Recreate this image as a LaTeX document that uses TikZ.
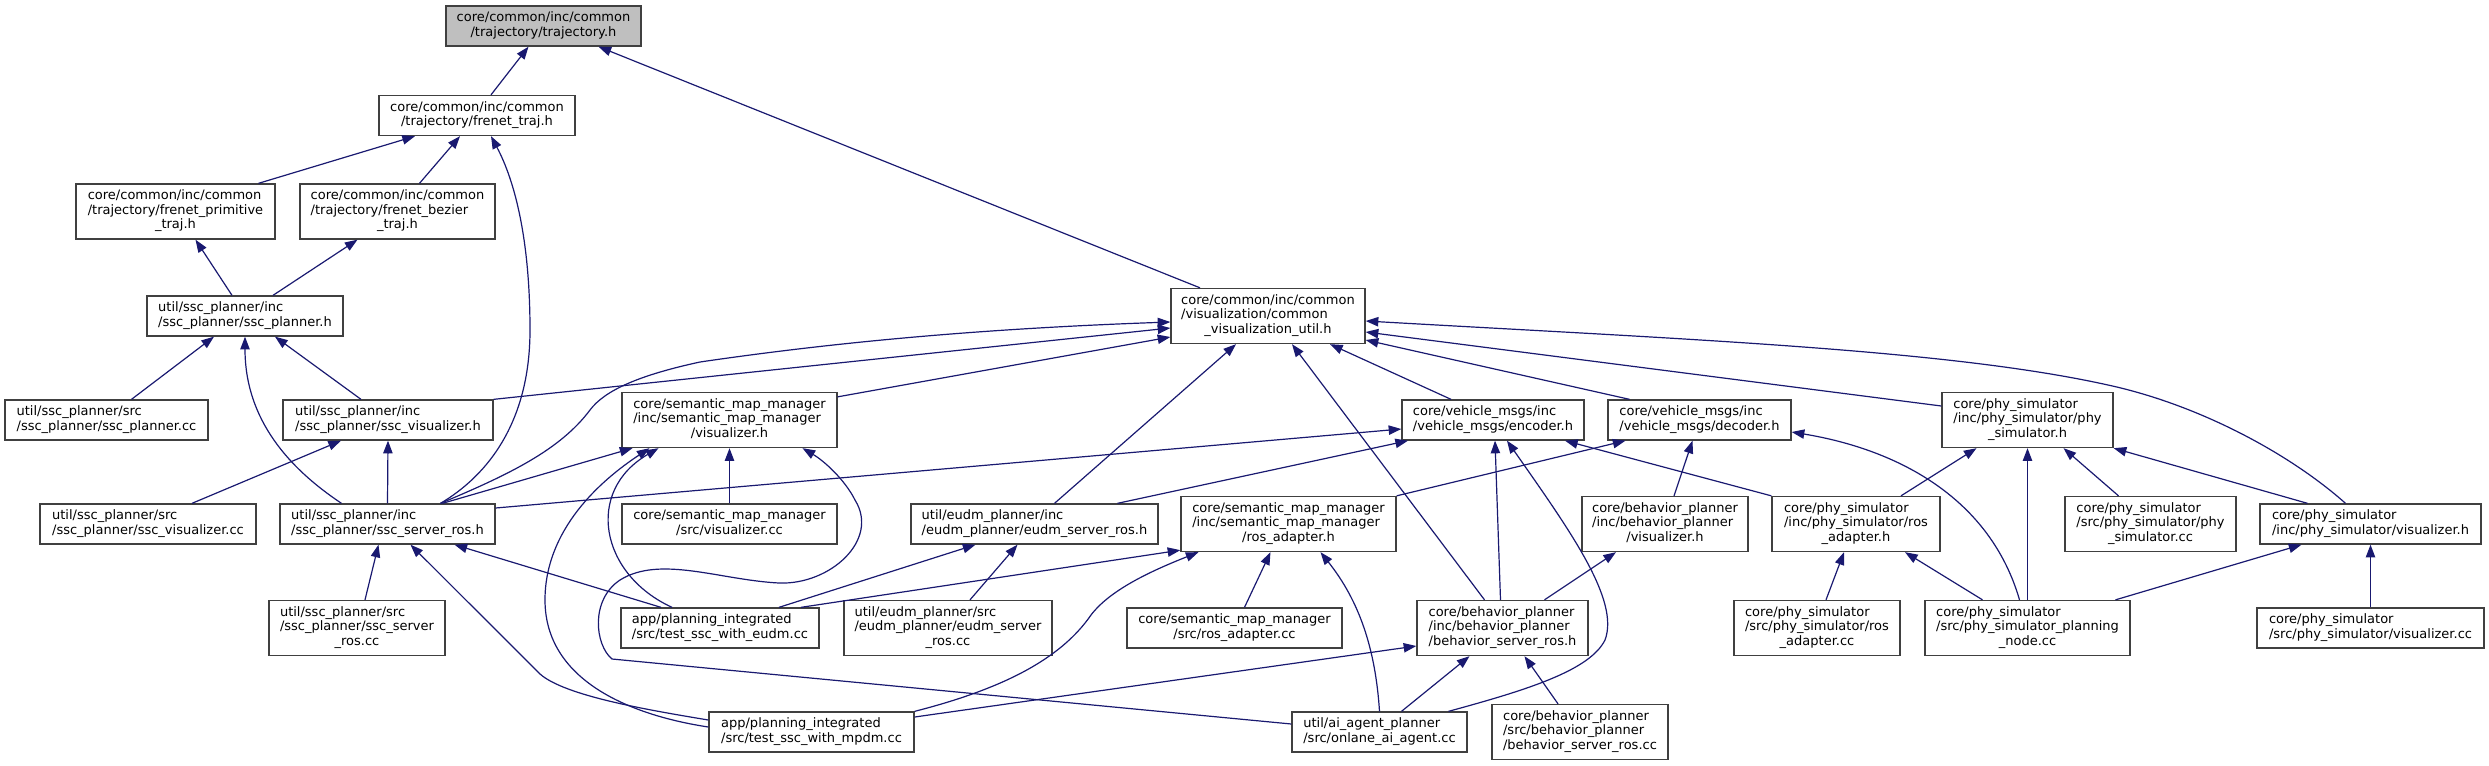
\documentclass[tikz,border=0pt]{standalone}
\usepackage{fontspec}
\setmainfont{DejaVu Sans}
\usetikzlibrary{arrows.meta,calc}
\definecolor{edgeblue}{HTML}{191970}
\definecolor{boxline}{HTML}{404040}
\definecolor{rootgray}{HTML}{BFBFBF}
% file name split doxygen-style: upper lines left, last line centred
\newcommand{\incfile}[2]{\begin{tabular}{@{}l@{}}#1\\\multicolumn{1}{@{}c@{}}{#2}\end{tabular}}

\begin{document}
\begin{tikzpicture}[
  x=.75pt,y=-.75pt,font=\fontsize{9.75}{10.8}\selectfont,
  file/.style={draw=boxline,line width=1pt,fill=white,inner sep=0pt,
    minimum height=30pt},
  file3/.style={file,minimum height=41.25pt},
  root/.style={file,fill=rootgray},
  wd/.style={minimum width=#1*0.75pt},
  dep/.style={draw=edgeblue,line width=.9pt,-{Triangle[length=9.5pt,width=7pt]}}
]
\useasboundingbox (0,0) rectangle (2489,765);

% rank 0 - 3
\node[root,wd=195] (traj) at (543.5,26) {\incfile{core/common/inc/common}{/trajectory/trajectory.h}};
\node[file,wd=196] (frenet) at (477,115.5) {\incfile{core/common/inc/common}{/trajectory/frenet\_traj.h}};
\node[file3,wd=199] (primitive) at (175.5,211.5)
  {\incfile{core/common/inc/common\\/trajectory/frenet\_primitive}{\_traj.h}};
\node[file3,wd=195] (bezier) at (397.5,211.5)
  {\incfile{core/common/inc/common\\/trajectory/frenet\_bezier}{\_traj.h}};
\node[file,wd=196] (sscplanner) at (245,316) {\incfile{util/ssc\_planner/inc}{/ssc\_planner/ssc\_planner.h}};
\node[file3,wd=194] (vizutil) at (1268,316)
  {\incfile{core/common/inc/common\\/visualization/common}{\_visualization\_util.h}};

% rank 4
\node[file,wd=203] (plannercc) at (106.5,420) {\incfile{util/ssc\_planner/src}{/ssc\_planner/ssc\_planner.cc}};
\node[file,wd=210] (sscviz) at (388,420) {\incfile{util/ssc\_planner/inc}{/ssc\_planner/ssc\_visualizer.h}};
\node[file3,wd=215] (smmviz) at (729.5,420)
  {\incfile{core/semantic\_map\_manager\\/inc/semantic\_map\_manager}{/visualizer.h}};
\node[file,wd=182] (encoder) at (1493,420) {\incfile{core/vehicle\_msgs/inc}{/vehicle\_msgs/encoder.h}};
\node[file,wd=183] (decoder) at (1699.5,420) {\incfile{core/vehicle\_msgs/inc}{/vehicle\_msgs/decoder.h}};
\node[file3,wd=171] (physim) at (2027.5,420)
  {\incfile{core/phy\_simulator\\/inc/phy\_simulator/phy}{\_simulator.h}};

% rank 5
\node[file,wd=216] (sscvizcc) at (148,524) {\incfile{util/ssc\_planner/src}{/ssc\_planner/ssc\_visualizer.cc}};
\node[file,wd=215] (serverh) at (387.5,524) {\incfile{util/ssc\_planner/inc}{/ssc\_planner/ssc\_server\_ros.h}};
\node[file,wd=215] (smmvizcc) at (729.5,524) {\incfile{core/semantic\_map\_manager}{/src/visualizer.cc}};
\node[file,wd=247] (eudmh) at (1034.5,524) {\incfile{util/eudm\_planner/inc}{/eudm\_planner/eudm\_server\_ros.h}};
\node[file3,wd=215] (smmros) at (1288.5,524)
  {\incfile{core/semantic\_map\_manager\\/inc/semantic\_map\_manager}{/ros\_adapter.h}};
\node[file3,wd=166] (bpviz) at (1665,524)
  {\incfile{core/behavior\_planner\\/inc/behavior\_planner}{/visualizer.h}};
\node[file3,wd=168] (phyros) at (1856,524)
  {\incfile{core/phy\_simulator\\/inc/phy\_simulator/ros}{\_adapter.h}};
\node[file3,wd=171] (physimcc) at (2150.5,524)
  {\incfile{core/phy\_simulator\\/src/phy\_simulator/phy}{\_simulator.cc}};
\node[file,wd=221] (phyviz) at (2370.5,524) {\incfile{core/phy\_simulator}{/inc/phy\_simulator/visualizer.h}};

% rank 6
\node[file3,wd=176] (servercc) at (357,628)
  {\incfile{util/ssc\_planner/src\\/ssc\_planner/ssc\_server}{\_ros.cc}};
\node[file,wd=198] (eudmtest) at (720,628) {\incfile{app/planning\_integrated}{/src/test\_ssc\_with\_eudm.cc}};
\node[file3,wd=208] (eudmcc) at (948,628)
  {\incfile{util/eudm\_planner/src\\/eudm\_planner/eudm\_server}{\_ros.cc}};
\node[file,wd=215] (smmroscc) at (1234.5,628) {\incfile{core/semantic\_map\_manager}{/src/ros\_adapter.cc}};
\node[file3,wd=171] (bsrh) at (1502.5,628)
  {\incfile{core/behavior\_planner\\/inc/behavior\_planner}{/behavior\_server\_ros.h}};
\node[file3,wd=166] (phyroscc) at (1817,628)
  {\incfile{core/phy\_simulator\\/src/phy\_simulator/ros}{\_adapter.cc}};
\node[file3,wd=205] (plannode) at (2027.5,628)
  {\incfile{core/phy\_simulator\\/src/phy\_simulator\_planning}{\_node.cc}};
\node[file,wd=227] (phyvizcc) at (2370.5,628) {\incfile{core/phy\_simulator}{/src/phy\_simulator/visualizer.cc}};

% rank 7
\node[file,wd=205] (mpdmtest) at (811.5,732) {\incfile{app/planning\_integrated}{/src/test\_ssc\_with\_mpdm.cc}};
\node[file,wd=175] (onlane) at (1379.5,732) {\incfile{util/ai\_agent\_planner}{/src/onlane\_ai\_agent.cc}};
\node[file3,wd=176] (bsrcc) at (1580,732)
  {\incfile{core/behavior\_planner\\/src/behavior\_planner}{/behavior\_server\_ros.cc}};

% trajectory part
\draw[dep] ($(frenet.north)+(14,0)$) -- ($(traj.south)+(-15,0)$);
\draw[dep] ($(vizutil.north)+(-68,0)$) -- ($(traj.south)+(55,0)$);
\draw[dep] ($(primitive.north)+(83,0)$) -- ($(frenet.south)+(-62,0)$);
\draw[dep] ($(bezier.north)+(22,0)$) -- ($(frenet.south)+(-17,0)$);
\draw[dep] ($(sscplanner.north)+(-13,0)$) -- ($(primitive.south)+(20,0)$);
\draw[dep] ($(sscplanner.north)+(28,0)$) -- ($(bezier.south)+(-40,0)$);
\draw[dep] ($(serverh.north)+(53,0)$) .. controls +(49,-29) and +(0,90) .. (530,330)
  .. controls +(0,-90) and +(24,45) .. ($(frenet.south)+(14,0)$);

% ssc planner
\draw[dep] ($(plannercc.north)+(25,0)$) -- ($(sscplanner.south)+(-31,0)$);
\draw[dep] ($(serverh.north)+(-46,0)$) .. controls +(-51,-34) and +(0,84) .. (sscplanner.south);
\draw[dep] ($(sscviz.north)+(-27,0)$) -- ($(sscplanner.south)+(30,0)$);
\draw[dep] ($(sscvizcc.north)+(44,0)$) -- ($(sscviz.south)+(-47,0)$);
\draw[dep] (serverh.north) -- (sscviz.south);
\draw[dep] (sscviz.north east) -- ($(vizutil.west)+(0,12)$);
\draw[dep] ($(serverh.north)+(53,0)$) .. controls +(69,-29) and +(-30,40) .. (590,410)
  .. controls +(15,-20) and +(-60,13) .. (700,362)
  .. controls +(150,-22) and +(-171,6) .. ($(vizutil.west)+(0,6)$);
\draw[dep] ($(smmviz.north east)+(0,5)$) -- ($(vizutil.west)+(0,21)$);
\draw[dep] ($(serverh.north)+(55,0)$) -- ($(smmviz.south)+(-97,0)$);
\draw[dep] ($(eudmtest.north)+(-59,0)$) -- ($(serverh.south)+(67,0)$);
\draw[dep] ($(servercc.north)+(8,0)$) -- ($(serverh.south)+(-9,0)$);
\draw[dep] ($(mpdmtest.west)+(0,-12)$) .. controls +(-60,-10) and +(25,22) .. (540,674)
  -- ($(serverh.south)+(23,0)$);
\draw[dep] ($(serverh.east)+(0,-16)$) -- ($(encoder.west)+(0,9)$);

% semantic map manager
\draw[dep] ($(mpdmtest.west)+(0,-5)$) .. controls +(-79,-12) and +(0,80) .. (545,600)
  .. controls +(0,-70) and +(-50,33) .. ($(smmviz.south)+(-80,0)$);
\draw[dep] ($(eudmtest.north)+(-48,0)$) .. controls +(-72,-33) and +(-74,43) .. ($(smmviz.south)+(-71,0)$);
\draw[dep] (smmvizcc.north) -- (smmviz.south);
\draw[dep] ($(onlane.west)+(0,-8)$) -- (612,659)
  .. controls +(-17,-14) and +(-30,20) .. (620,580)
  .. controls +(40,-25) and +(-59,-3) .. (779,583)
  .. controls +(51,2) and +(25,40) .. (855,500)
  .. controls +(-10,-20) and +(22,13) .. ($(smmviz.south)+(73,0)$);
\draw[dep] ($(eudmtest.north)+(59,0)$) -- ($(eudmh.south)+(-59,0)$);
\draw[dep] ($(eudmtest.north)+(81,0)$) -- ($(smmros.south west)+(0,-2)$);
\draw[dep] ($(eudmcc.north)+(22,0)$) -- ($(eudmh.south)+(-17,0)$);
\draw[dep] ($(eudmh.north)+(20,0)$) -- ($(vizutil.south)+(-32,0)$);
\draw[dep] ($(eudmh.north)+(83,0)$) -- ($(encoder.south)+(-85,0)$);
\draw[dep] (smmros.north east) -- ($(decoder.south)+(-74,0)$);
\draw[dep] (mpdmtest.north east) .. controls +(86,-22) and +(-31,45) .. (1091,615)
  .. controls +(19,-25) and +(-48,19) .. ($(smmros.south)+(-90,0)$);
\draw[dep] ($(mpdmtest.east)+(0,-15)$) -- ($(bsrh.west)+(0,18)$);
\draw[dep] ($(smmroscc.north)+(10,0)$) -- ($(smmros.south)+(-18,0)$);
\draw[dep] (onlane.north) .. controls +(-4,-62) and +(39,49) .. ($(smmros.south)+(32,0)$);

% vehicle msgs and behavior planner
\draw[dep] ($(bsrh.north)+(-18,0)$) -- ($(vizutil.south)+(24,0)$);
\draw[dep] ($(encoder.north)+(-42,0)$) -- ($(vizutil.south)+(62,0)$);
\draw[dep] ($(decoder.north)+(-70,0)$) -- ($(vizutil.east)+(0,24)$);
\draw[dep] ($(physim.west)+(0,-14)$) -- ($(vizutil.east)+(0,16)$);
\draw[dep] ($(phyviz.north)+(-25,0)$) .. controls +(-55,-49) and +(92,20) .. (2108,385)
  .. controls +(-158,-35) and +(335,19) .. ($(vizutil.east)+(0,5)$);
\draw[dep] ($(bsrh.north)+(-2,0)$) -- ($(encoder.south)+(2,0)$);
\draw[dep] ($(onlane.north)+(69,0)$) .. controls +(81,-22) and +(-15,30) .. (1605,640)
  .. controls +(15,-40) and +(63,90) .. ($(encoder.south)+(14,0)$);
\draw[dep] (phyros.north west) -- ($(encoder.south)+(72,0)$);
\draw[dep] ($(bpviz.north)+(9,0)$) -- ($(decoder.south)+(-7,0)$);
\draw[dep] ($(plannode.north)+(-8,0)$) .. controls +(-29,-100) and +(109,18) .. ($(decoder.east)+(0,12)$);
\draw[dep] ($(bsrh.north)+(42,0)$) -- ($(bpviz.south)+(-49,0)$);
\draw[dep] ($(bsrcc.north)+(-22,0)$) -- ($(bsrh.south)+(22,0)$);
\draw[dep] ($(onlane.north)+(22,0)$) -- ($(bsrh.south)+(-33,0)$);

% phy simulator
\draw[dep] ($(phyros.north)+(45,0)$) -- ($(physim.south)+(-51,0)$);
\draw[dep] (plannode.north) -- (physim.south);
\draw[dep] ($(physimcc.north)+(-32,0)$) -- ($(physim.south)+(36,0)$);
\draw[dep] ($(phyviz.north)+(-63,0)$) -- (physim.south east);
\draw[dep] ($(phyroscc.north)+(9,0)$) -- ($(phyros.south)+(-12,0)$);
\draw[dep] ($(plannode.north)+(-45,0)$) -- ($(phyros.south)+(49,0)$);
\draw[dep] ($(plannode.north)+(88,0)$) -- ($(phyviz.south)+(-69,0)$);
\draw[dep] (phyvizcc.north) -- (phyviz.south);
\end{tikzpicture}
\end{document}
